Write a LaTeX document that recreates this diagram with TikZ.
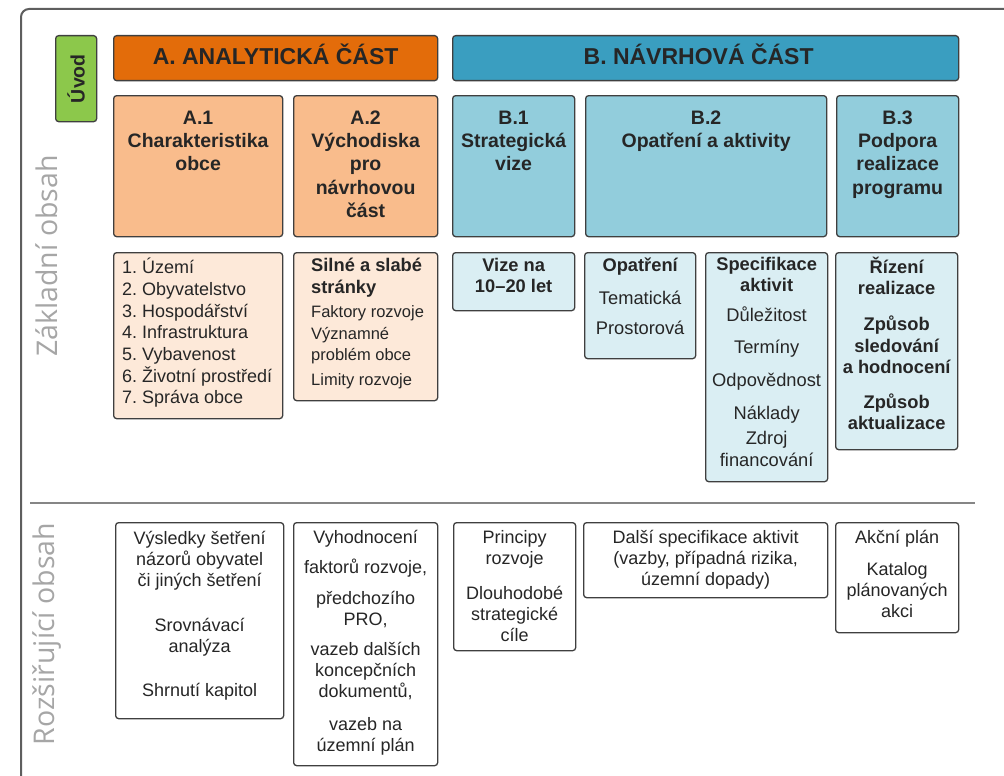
\documentclass[tikz,border=0pt]{standalone}
\usepackage{fontspec}
\setmainfont{Liberation Sans}
\newfontfamily\sidefam{Open Sans}
\usepackage{xcolor}
\usetikzlibrary{positioning}

\definecolor{frameline}{HTML}{5E5E5E}
\definecolor{boxline}{HTML}{3F3F3F}
\definecolor{uvodgreen}{HTML}{8CC84B}
\definecolor{ahead}{HTML}{E36C0A}
\definecolor{atitle}{HTML}{F9BC8C}
\definecolor{asub}{HTML}{FDE9D9}
\definecolor{bhead}{HTML}{3A9EC0}
\definecolor{btitle}{HTML}{92CDDC}
\definecolor{bsub}{HTML}{DAEEF3}
\definecolor{sidegray}{HTML}{A6A6A6}
\definecolor{inktext}{HTML}{262626}

\newcommand\hdfont{\fontsize{23}{27}\selectfont\bfseries}
\newcommand\ttlfont{\fontsize{19.5}{23.3}\selectfont\bfseries}
\newcommand\lstfont{\fontsize{18}{21.7}\selectfont}
\newcommand\subfont{\fontsize{18.3}{21.5}\selectfont}
\newcommand\smlfont{\fontsize{16.5}{20.5}\selectfont}
\newcommand\botfont{\fontsize{18}{21}\selectfont}
\newcommand\sidefont{\sidefam\fontsize{28.5}{34}\selectfont}

\tikzset{
	cell/.style={draw=boxline, line width=1.3pt, rounded corners=3pt, inner sep=0pt, anchor=north west},
	lbl/.style={inner sep=0pt, anchor=north, align=center, text=inktext, execute at begin node=\strut},
	lbll/.style={lbl, anchor=north west, align=left},
	side/.style={inner sep=0pt, rotate=90, text=sidegray, font=\sidefont}
}

\begin{document}
\begin{tikzpicture}[x=1pt,y=-1pt]
	\useasboundingbox (0,0) rectangle (1004,776);
	% frame and divider
	\coordinate (fb) at (21,790);
	\coordinate (fc) at (21,9);
	\coordinate (fr) at (1015,9);
	\draw[frameline, line width=2pt, rounded corners=8pt] (fb) -- (fc) -- (fr);
	\coordinate (dl) at (30,503);
	\coordinate (dr) at (975,503);
	\draw[frameline!75, line width=1.2pt] (dl) -- (dr);
	\node[side] (zakl) at (47,256) {Základní obsah};
	\node[side] (rozs) at (47,634) {Rozšiřující obsah};

	% headers
	\node[cell, fill=uvodgreen, minimum width=41, minimum height=86] (uvod) at (55,35) {};
	\node[rotate=90, inner sep=0pt, font=\fontsize{19.5}{23}\selectfont\bfseries, text=inktext] (uvodt) at (uvod.center) {Úvod};
	\node[cell, fill=ahead, minimum width=324, minimum height=45] (ahd) at (113,35) {};
	\node[inner sep=0pt, anchor=base, font=\hdfont, text=inktext] (ahdt) at ([yshift=-29.5pt]ahd.north) {A. ANALYTICKÁ ČÁST};
	\node[cell, fill=bhead, minimum width=506, minimum height=45] (bhd) at (452,35) {};
	\node[inner sep=0pt, anchor=base, font=\hdfont, text=inktext] (bhdt) at ([xshift=-7pt,yshift=-29.5pt]bhd.north) {B. NÁVRHOVÁ ČÁST};

	% chapters
	\node[cell, fill=atitle, minimum width=169, minimum height=141] (a1) at (113,95) {};
	\node[cell, fill=atitle, minimum width=144, minimum height=141] (a2) at (293,95) {};
	\node[cell, fill=btitle, minimum width=122, minimum height=141] (b1) at (452,95) {};
	\node[cell, fill=btitle, minimum width=241, minimum height=141] (b2) at (585,95) {};
	\node[cell, fill=btitle, minimum width=122, minimum height=141] (b3) at (836,95) {};
	\node[lbl, font=\ttlfont, below=15.5pt of a1.north] (a1t) {A.1\\Charakteristika\\obce};
	\node[lbl, font=\ttlfont, below=15.5pt of a2.north] (a2t) {A.2\\Východiska\\pro\\návrhovou\\část};
	\node[lbl, font=\ttlfont, below=15.5pt of b1.north] (b1t) {B.1\\Strategická\\vize};
	\node[lbl, font=\ttlfont, below=15.5pt of b2.north] (b2t) {B.2\\Opatření a aktivity};
	\node[lbl, font=\ttlfont, below=15.5pt of b3.north] (b3t) {B.3\\Podpora\\realizace\\programu};

	% basic content
	\node[cell, fill=asub, minimum width=169, minimum height=166] (a1s) at (113,252) {};
	\node[lbll, font=\lstfont, below right=5.8pt and 9pt of a1s.north west] (a1st) {1.~Území\\2.~Obyvatelstvo\\3.~Hospodářství\\4.~Infrastruktura\\5.~Vybavenost\\6.~Životní prostředí\\7.~Správa obce};
	\node[cell, fill=asub, minimum width=144, minimum height=148] (a2s) at (293,252) {};
	\node[lbll, font=\subfont\bfseries, below right=6pt and 18pt of a2s.north west] (a2sb) {Silné a slabé\\stránky};
	\node[lbll, font=\smlfont, below right=53.65pt and 18pt of a2s.north west] (a2st) {Faktory rozvoje\\[1.2pt]Významné\\problém obce\\[4.5pt]Limity rozvoje};
	\node[cell, fill=bsub, minimum width=122, minimum height=58] (b1s) at (452,252) {};
	\node[lbl, font=\subfont\bfseries, below=6pt of b1s.north] (b1st) {Vize na\\10--20 let};
	\node[cell, fill=bsub, minimum width=111, minimum height=106] (b2o) at (584,252) {};
	\node[lbl, font=\subfont\bfseries, below=4pt of b2o.north] (b2ob) {Opatření};
	\node[lbl, font=\subfont, below=38.65pt of b2o.north] (b2ot) {Tematická\\[8.8pt]Prostorová};
	\node[cell, fill=bsub, minimum width=122, minimum height=229] (b2a) at (705,252) {};
	\node[lbl, font=\subfont\bfseries, below=4.65pt of b2a.north] (b2ab) {Specifikace\\aktivit};
	\node[lbl, font=\subfont, below=54.65pt of b2a.north] (b2at) {Důležitost\\[10.3pt]Termíny\\[11.7pt]Odpovědnost\\[11.8pt]Náklady\\[3.5pt]Zdroj\\financování};
	\node[cell, fill=bsub, minimum width=122, minimum height=197] (b3s) at (835,252) {};
	\node[lbl, font=\subfont\bfseries, below=4.65pt of b3s.north] (b3st) {Řízení\\realizace\\[14.3pt]Způsob\\sledování\\a hodnocení\\[13.2pt]Způsob\\aktualizace};

	% extended content
	\node[cell, fill=white, minimum width=168, minimum height=196] (a1x) at (115,522) {};
	\node[lbl, font=\botfont, below=9pt of a1x.north] (a1xt) {Výsledky šetření\\názorů obyvatel\\či jiných šetření\\[24.3pt]Srovnávací\\analýza\\[23pt]Shrnutí kapitol};
	\node[cell, fill=white, minimum width=144, minimum height=243] (a2x) at (293,522) {};
	\node[lbl, font=\botfont, below=8.3pt of a2x.north] (a2xt) {Vyhodnocení\\[9pt]faktorů rozvoje,\\[10pt]předchozího\\PRO,\\[9pt]vazeb dalších\\koncepčních\\dokumentů,\\[11.7pt]vazeb na\\územní plán};
	\node[cell, fill=white, minimum width=122, minimum height=128] (b1x) at (453,522) {};
	\node[lbl, font=\botfont, below=8.3pt of b1x.north] (b1xt) {Principy\\rozvoje\\[14pt]Dlouhodobé\\strategické\\cíle};
	\node[cell, fill=white, minimum width=244, minimum height=75] (b2x) at (583,522) {};
	\node[lbl, font=\botfont, below=8.3pt of b2x.north] (b2xt) {Další specifikace aktivit\\(vazby, případná rizika,\\územní dopady)};
	\node[cell, fill=white, minimum width=123, minimum height=110] (b3x) at (835,522) {};
	\node[lbl, font=\botfont, below=8.3pt of b3x.north] (b3xt) {Akční plán\\[11pt]Katalog\\plánovaných\\akci};
\end{tikzpicture}
\end{document}
